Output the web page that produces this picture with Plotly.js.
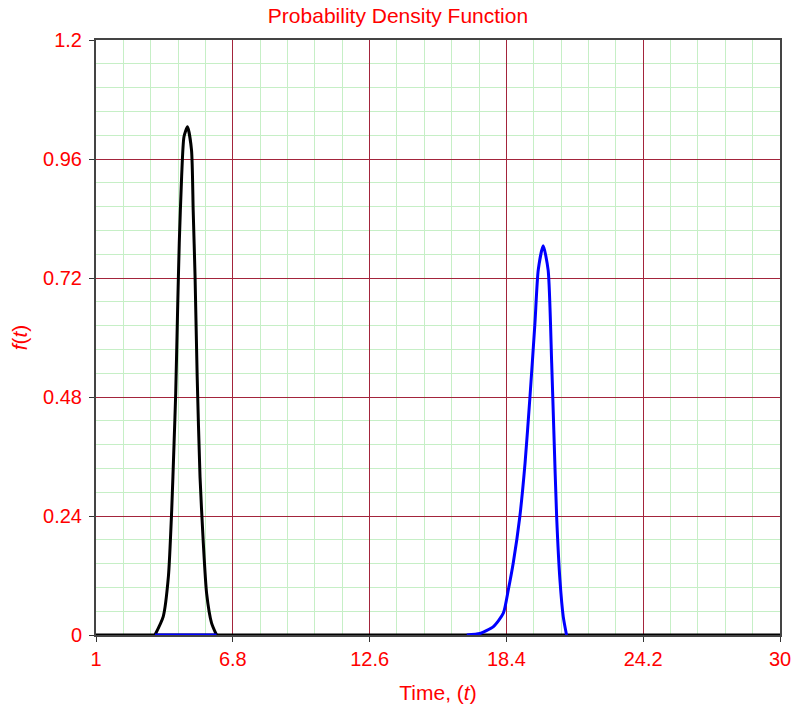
<!DOCTYPE html>
<html>
<head>
<meta charset="utf-8">
<script src="https://cdn.plot.ly/plotly-3.0.1.min.js"></script>
<style>html,body{margin:0;padding:0;background:#fff;}#chart{width:796px;height:710px;}</style>
</head>
<body>
<div id="chart"></div>
<script>
// Black baseline (zero density across the range)
const baseT = [1, 30];
const baseF = [0, 0];
// Black PDF series (time, density)
const blackT = [3.50, 3.85, 4.07, 4.21, 4.31, 4.38, 4.46, 4.53, 4.63, 4.73, 4.88, 5.05, 5.12, 5.20, 5.29, 5.41, 5.55, 5.69, 5.90, 6.11];
const blackF = [0, 0.037, 0.118, 0.252, 0.387, 0.488, 0.656, 0.790, 0.924, 1.005, 1.025, 0.978, 0.857, 0.723, 0.521, 0.319, 0.185, 0.084, 0.024, 0];
// Blue PDF series: zero segment under the black peak
const blueZeroT = [3.50, 6.11];
const blueZeroF = [0, 0];
// Blue PDF series (time, density)
const blueT = [16.72, 17.28, 17.85, 18.27, 18.48, 18.69, 18.97, 19.19, 19.40, 19.61, 19.75, 19.96, 20.17, 20.32, 20.41, 20.53, 20.67, 20.81, 20.95];
const blueF = [0, 0.003, 0.017, 0.044, 0.091, 0.145, 0.239, 0.346, 0.481, 0.629, 0.736, 0.785, 0.736, 0.548, 0.413, 0.239, 0.111, 0.037, 0];

const xTicks = [1, 6.8, 12.6, 18.4, 24.2, 30];
const xTickText = ["1", "6.8", "12.6", "18.4", "24.2", "30"];
const yTicks = [0, 0.24, 0.48, 0.72, 0.96, 1.2];
const yTickText = ["0", "0.24", "0.48", "0.72", "0.96", "1.2"];

const font = "Liberation Sans, Arial, sans-serif";
const red = "#ff0000";

const traces = [
  {x: baseT, y: baseF, mode: "lines", line: {color: "#000000", width: 3}, hoverinfo: "none", showlegend: false, cliponaxis: false},
  {x: blackT, y: blackF, mode: "lines", line: {color: "#000000", width: 3, shape: "spline", smoothing: 0.6}, hoverinfo: "none", showlegend: false},
  {x: blueZeroT, y: blueZeroF, mode: "lines", line: {color: "#0000ff", width: 3}, hoverinfo: "none", showlegend: false},
  {x: blueT, y: blueF, mode: "lines", line: {color: "#0000ff", width: 3, shape: "spline", smoothing: 0.6}, hoverinfo: "none", showlegend: false}
];

const layout = {
  width: 796, height: 710,
  margin: {l: 96, r: 16, t: 40, b: 75},
  paper_bgcolor: "#ffffff", plot_bgcolor: "#ffffff",
  font: {family: font, color: red, size: 20},
  title: {text: "Probability Density Function", font: {family: font, color: red, size: 21}, x: 0.5, xref: "container", y: 0.978, yref: "container", yanchor: "middle"},
  xaxis: {
    range: [1, 30], tickmode: "array", tickvals: xTicks, ticktext: xTickText,
    showgrid: true, gridcolor: "#a3243b", gridwidth: 1,
    minor: {dtick: 1.16, tick0: 1, showgrid: true, gridcolor: "#c6efc6", gridwidth: 1, ticks: ""},
    ticks: "outside", ticklen: 5, tickcolor: "#333", tickwidth: 1,
    showline: true, linecolor: "#444", linewidth: 2, mirror: true,
    zeroline: false, tickfont: {family: font, color: red, size: 20},
    title: {text: "Time, (<i>t</i>)", font: {family: font, color: red, size: 21}, standoff: 16}
  },
  yaxis: {
    range: [0, 1.2], tickmode: "array", tickvals: yTicks, ticktext: yTickText,
    showgrid: true, gridcolor: "#a3243b", gridwidth: 1,
    minor: {dtick: 0.048, tick0: 0, showgrid: true, gridcolor: "#c6efc6", gridwidth: 1, ticks: ""},
    ticks: "outside", ticklen: 5, tickcolor: "#333", tickwidth: 1, ticklabelstandoff: 3,
    showline: true, linecolor: "#444", linewidth: 2, mirror: true,
    zeroline: false, tickfont: {family: font, color: red, size: 20},
    title: {text: "<i>f</i>(<i>t</i>)", font: {family: font, color: red, size: 21}, standoff: 10}
  }
};

Plotly.newPlot("chart", traces, layout, {staticPlot: true, displayModeBar: false});
</script>
</body>
</html>
